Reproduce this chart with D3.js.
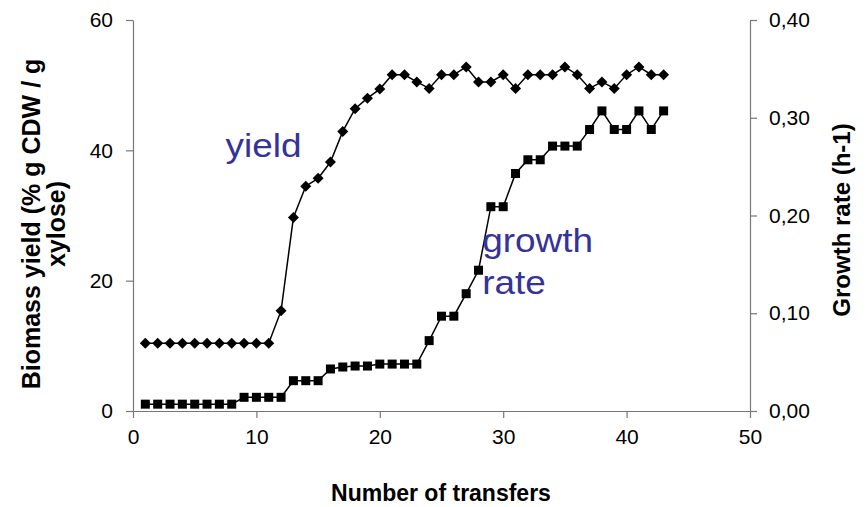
<!DOCTYPE html>
<html><head><meta charset="utf-8">
<script src="https://cdn.jsdelivr.net/npm/d3@7"></script>
<style>
html,body{margin:0;padding:0;background:#fff;}
svg{display:block;font-family:"Liberation Sans",Arial,sans-serif;}
</style></head>
<body>
<svg id="chart" width="868" height="507"></svg>
<script>
const transfers = d3.range(1, 44);
const yieldValues = [10.4,10.4,10.4,10.4,10.4,10.4,10.4,10.4,10.4,10.4,10.4,
  15.4,29.7,34.5,35.7,38.2,42.9,46.4,48.0,49.4,51.6,51.6,50.5,49.5,51.6,51.6,52.8,
  50.5,50.5,51.6,49.5,51.6,51.6,51.6,52.8,51.6,49.5,50.5,49.5,51.6,52.8,51.6,51.6];
const growthValues = [0.007,0.007,0.007,0.007,0.007,0.007,0.007,0.007,
  0.014,0.014,0.014,0.014,0.031,0.031,0.031,0.043,0.045,0.046,0.046,
  0.048,0.048,0.048,0.048,0.072,0.097,0.097,0.120,0.144,0.209,0.209,0.243,
  0.257,0.257,0.271,0.271,0.271,0.288,0.307,0.288,0.288,0.307,0.288,0.307];
const xTicks = [0,10,20,30,40,50];
const yLeftTicks = [0,20,40,60];
const yRightTicks = [0,0.1,0.2,0.3,0.4];
const xTitle = "Number of transfers";
const yLeftTitle = ["Biomass yield (% g CDW / g", "xylose)"];
const yRightTitle = "Growth rate (h-1)";
const seriesLabels = [{text:["yield"], x:7.5, y:39.0}, {text:["growth","rate"], x:28.3, y:24.4}];

const svg = d3.select("#chart");
const x = d3.scaleLinear().domain([0,50]).range([133,750]);
const yL = d3.scaleLinear().domain([0,60]).range([411,20]);
const yR = d3.scaleLinear().domain([0,0.4]).range([411,20]);
const axisColor = "#777";
const fmtComma = v => d3.format(".2f")(v).replace(".", ",");

function styleAxis(g){
  g.select(".domain").attr("stroke", axisColor).attr("stroke-width",1.2);
  g.selectAll(".tick line").attr("stroke", axisColor).attr("stroke-width",1.2);
  g.selectAll(".tick text").attr("fill","#000").attr("font-size",21)
   .attr("font-family","Liberation Sans, Arial, sans-serif");
}

const gx = svg.append("g").attr("transform","translate(0,411)")
  .call(d3.axisBottom(x).tickValues(xTicks).tickSize(7).tickPadding(11).tickSizeOuter(0));
styleAxis(gx);
const gyl = svg.append("g").attr("transform","translate(133,0)")
  .call(d3.axisLeft(yL).tickValues(yLeftTicks).tickSize(7).tickPadding(13).tickSizeOuter(0));
styleAxis(gyl);
const gyr = svg.append("g").attr("transform","translate(750,0)")
  .call(d3.axisRight(yR).tickValues(yRightTicks).tickFormat(fmtComma).tickSize(7).tickPadding(12).tickSizeOuter(0));
styleAxis(gyr);

// lines
const lineY = d3.line().x((d,i)=>x(transfers[i])).y(d=>yL(d));
const lineG = d3.line().x((d,i)=>x(transfers[i])).y(d=>yR(d));
svg.append("path").datum(yieldValues).attr("d",lineY).attr("fill","none").attr("stroke","#000").attr("stroke-width",1.5);
svg.append("path").datum(growthValues).attr("d",lineG).attr("fill","none").attr("stroke","#000").attr("stroke-width",1.5);

// markers
const dsz = 5.5;
svg.append("g").selectAll("path").data(yieldValues).join("path")
  .attr("d",(d,i)=>{const cx=x(transfers[i]), cy=yL(d); return `M${cx},${cy-dsz}L${cx+dsz},${cy}L${cx},${cy+dsz}L${cx-dsz},${cy}Z`;})
  .attr("fill","#000");
const ssz = 9;
svg.append("g").selectAll("rect").data(growthValues).join("rect")
  .attr("x",(d,i)=>x(transfers[i])-ssz/2).attr("y",d=>yR(d)-ssz/2)
  .attr("width",ssz).attr("height",ssz).attr("fill","#000");

// series labels (slightly widened glyphs as in the reference)
seriesLabels.forEach(l=>{
  const t = svg.append("text").attr("fill","#333399").attr("font-size",33)
    .attr("font-family","Liberation Sans, Arial, sans-serif")
    .attr("transform",`translate(${x(l.x)},${yL(l.y)}) scale(1.12,1)`);
  l.text.forEach((s,i)=>t.append("tspan").attr("x",0).attr("y",i*42).text(s));
});

// axis titles
svg.append("text").attr("x",441).attr("y",501).attr("text-anchor","middle")
  .attr("font-size",23).attr("font-weight","bold").text(xTitle);
const yt = svg.append("text").attr("transform","translate(40,224) rotate(-90)")
  .attr("text-anchor","middle").attr("font-size",25).attr("font-weight","bold");
yLeftTitle.forEach((s,i)=>yt.append("tspan").attr("x",0).attr("y",i*25).text(s));
svg.append("text").attr("transform","translate(850,220) rotate(-90)")
  .attr("text-anchor","middle").attr("font-size",24).attr("font-weight","bold").text(yRightTitle);
</script>
</body></html>
